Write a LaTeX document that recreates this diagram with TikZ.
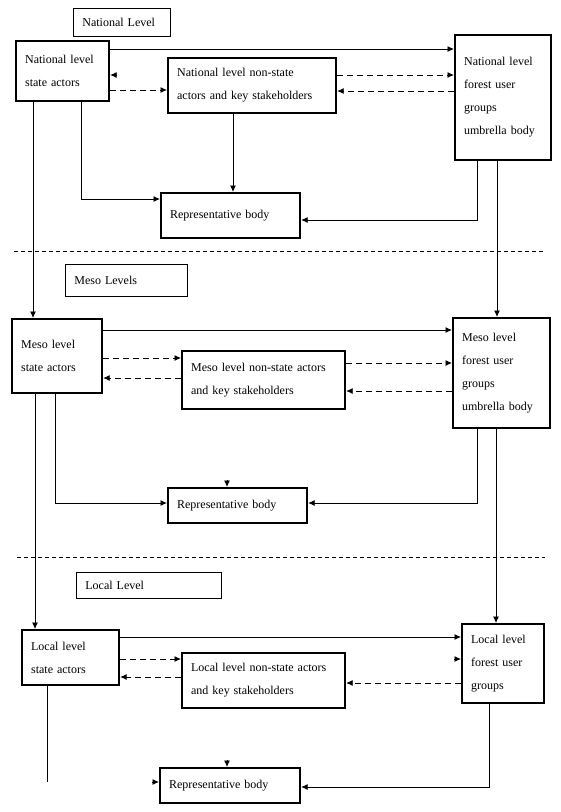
\documentclass[tikz,border=0pt]{standalone}
\usepackage{fontspec}
\setmainfont{Liberation Serif}
\usetikzlibrary{arrows.meta}
\tikzset{
  actor/.style={draw, line width=2.2pt, anchor=north west, inner xsep=9pt,
    inner ysep=0pt, align=left, font=\fontsize{12}{23}\selectfont},
  levelbox/.style={draw, line width=0.8pt, anchor=north west, inner xsep=9pt,
    inner ysep=0pt, align=left, font=\fontsize{12}{23}\selectfont},
  link/.style={line width=0.8pt, -{Latex[length=6.5pt,width=6pt]}},
  dlink/.style={link, dash pattern=on 6pt off 4pt},
  sep/.style={line width=0.7pt, dash pattern=on 4pt off 3pt},
}

\begin{document}
\begin{tikzpicture}[x=1pt, y=-1pt]
\useasboundingbox (0,0) rectangle (561,812);
% national level
\node[levelbox, text width=79pt, minimum height=28pt] (natlvl) at (73,8) {National Level};
\node[actor, text width=75pt, minimum height=60pt] (natsa) at (15,40) {National level\\state actors};
\node[actor, text width=150pt, minimum height=55pt] (natns) at (167,57) {National level non-state\\actors and key stakeholders};
\node[actor, text width=78pt, minimum height=125pt] (natfu) at (454,34) {National level\\forest user\\groups\\umbrella body};
\node[actor, text width=121pt, minimum height=45pt] (natrb) at (160,192) {Representative body};
\draw[link] (natsa.east |- 0,49) -- (natfu.west |- 0,49);
\coordinate (natdang) at (116,75);
\draw[link] (natdang) -- (natsa.east |- natdang);
\draw[dlink] (natsa.east |- 0,90) -- (natns.west |- 0,90);
\draw[dlink] (natns.east |- 0,75) -- (natfu.west |- 0,75);
\draw[dlink] (natfu.west |- 0,91) -- (natns.east |- 0,91);
\draw[link] (natns.south -| 233,0) -- (natrb.north -| 233,0);
\draw[link] (natsa.south -| 81,0) |- (natrb.west |- 0,199);
\draw[link] (natfu.south -| 477,0) |- (natrb.east |- 0,220);
\draw[sep] (14,251) -- (543,251);
% meso levels
\node[levelbox, text width=104pt, minimum height=32pt] (meslvl) at (65,264) {Meso Levels};
\node[actor, text width=72pt, minimum height=74pt] (messa) at (11,318) {Meso level\\state actors};
\node[actor, text width=145pt, minimum height=58pt] (mesns) at (181,350) {Meso level non-state actors\\and key stakeholders};
\node[actor, text width=79pt, minimum height=110pt] (mesfu) at (452,317) {Meso level\\forest user\\groups\\umbrella body};
\node[actor, text width=121pt, minimum height=35pt] (mesrb) at (167,487) {Representative body};
\draw[link] (natsa.south -| 33,0) -- (messa.north -| 33,0);
\draw[link] (natfu.south -| 497,0) -- (mesfu.north -| 497,0);
\draw[link] (messa.east |- 0,330) -- (mesfu.west |- 0,330);
\draw[dlink] (messa.east |- 0,358) -- (mesns.west |- 0,358);
\draw[dlink] (mesns.west |- 0,378) -- (messa.east |- 0,378);
\draw[dlink] (mesns.east |- 0,363) -- (mesfu.west |- 0,363);
\draw[dlink] (mesfu.west |- 0,391) -- (mesns.east |- 0,391);
\coordinate (mesdang) at (227,480);
\draw[link] (mesdang) -- (mesrb.north -| mesdang);
\draw[link] (messa.south -| 55,0) |- (mesrb.west |- 0,503);
\draw[link] (mesfu.south -| 477,0) |- (mesrb.east |- 0,503);
\draw[sep] (17,557) -- (545,557);
% local level
\node[levelbox, text width=127pt, minimum height=26pt] (loclvl) at (76,572) {Local Level};
\node[actor, text width=79pt, minimum height=55pt] (locsa) at (21,629) {Local level\\state actors};
\node[actor, text width=145pt, minimum height=55pt] (locns) at (181,652) {Local level non-state actors\\and key stakeholders};
\node[actor, text width=64pt, minimum height=79pt] (locfu) at (461,623) {Local level\\forest user\\groups};
\node[actor, text width=122pt, minimum height=35pt] (locrb) at (159,767) {Representative body};
\draw[link] (messa.south -| 35,0) -- (locsa.north -| 35,0);
\draw[link] (mesfu.south -| 496,0) -- (locfu.north -| 496,0);
\draw[link] (locsa.east |- 0,637) -- (locfu.west |- 0,637);
\draw[dlink] (locsa.east |- 0,659) -- (locns.west |- 0,659);
\draw[dlink] (locns.west |- 0,677) -- (locsa.east |- 0,677);
\coordinate (locdanga) at (454,659);
\draw[link] (locdanga) -- (locfu.west |- locdanga);
\draw[dlink] (locfu.west |- 0,683) -- (locns.east |- 0,683);
\coordinate (locdangb) at (227,760);
\draw[link] (locdangb) -- (locrb.north -| locdangb);
\coordinate (locdangc) at (152,782);
\draw[link] (locdangc) -- (locrb.west |- locdangc);
\coordinate (locend) at (47,782);
\draw[line width=0.8pt] (locsa.south -| locend) -- (locend);
\draw[link] (locfu.south -| 489,0) |- (locrb.east |- 0,787);
\end{tikzpicture}
\end{document}
